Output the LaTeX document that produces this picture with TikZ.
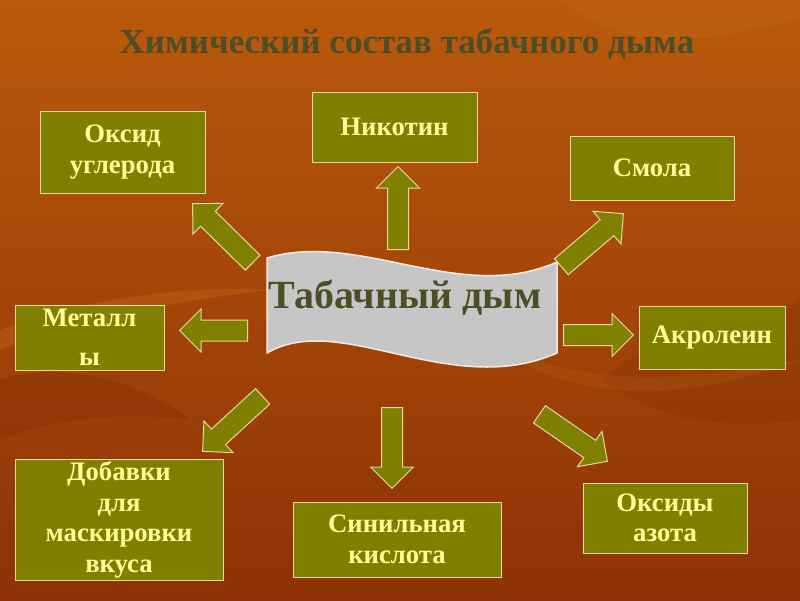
\documentclass[tikz,border=0pt]{standalone}
\usepackage{fontspec}
\setmainfont{Liberation Serif}
\usetikzlibrary{shapes.arrows, calc}

\definecolor{boxolive}{HTML}{808000}
\definecolor{boxedge}{HTML}{E6D7A6}
\definecolor{boxtext}{HTML}{FFFF99}
\definecolor{titlecol}{HTML}{4D4D26}
\definecolor{bgtop}{HTML}{BA5A0C}
\definecolor{bgbot}{HTML}{8E3206}
\definecolor{leaflight}{HTML}{D07A20}
\definecolor{leafdark}{HTML}{7A2404}
\definecolor{bannergray}{HTML}{C6C6C6}
\definecolor{banneredge}{HTML}{F4ECE2}

\tikzset{
    item/.style={rectangle, fill=boxolive, draw=boxedge, line width=1pt, text=boxtext,
        font=\bfseries\fontsize{26.7}{30.5}\selectfont, align=center, inner sep=2pt},
    blockarr/.style={single arrow, fill=boxolive, draw=boxedge, line width=1pt,
        inner xsep=0pt, inner ysep=10pt, single arrow head extend=11pt,
        single arrow head indent=0pt, sloped, allow upside down},
}
\newcommand{\blockarrow}[2]{%
    \path let \p1=($(#2)-(#1)$), \n1={veclen(\x1,\y1)} in
        (#1) -- (#2) node[blockarr, pos=0, anchor=tail, minimum height=\n1] {};}

\begin{document}
\begin{tikzpicture}[x=1pt, y=-1pt]
    % Background
    \useasboundingbox (0,0) rectangle (800,600);
    \fill[top color=bgtop, bottom color=bgbot] (0,0) rectangle (800,600);
    \fill[leaflight, opacity=.25] (0,330) .. controls (80,300) and (180,285) .. (270,290) .. controls (180,300) and (80,320) .. (0,350) -- cycle;
    \fill[leafdark, opacity=.25] (0,380) .. controls (60,360) and (140,380) .. (190,420) .. controls (120,410) and (50,420) .. (0,440) -- cycle;
    \fill[leaflight, opacity=.18] (560,0) .. controls (640,60) and (700,40) .. (800,20) -- (800,0) -- cycle;
    \fill[leafdark, opacity=.2] (600,380) .. controls (660,330) and (740,330) .. (800,300) -- (800,420) .. controls (720,430) and (660,420) .. (600,380) -- cycle;
    \fill[leaflight, opacity=.15] (470,330) .. controls (560,380) and (640,390) .. (800,360) .. controls (660,410) and (560,400) .. (470,330) -- cycle;
    % Title
    \node[font=\bfseries\fontsize{35}{40}\selectfont, text=titlecol, anchor=base] (title) at (407,53) {Химический состав табачного дыма};
    % Banner
    \filldraw[fill=bannergray, draw=banneredge, line width=1.5pt]
        (267,258) .. controls (360,230) and (460,305) .. (557,262) -- (557,353)
        .. controls (450,400) and (340,310) .. (267,353) -- cycle;
    \node[font=\bfseries\fontsize{40}{46}\selectfont, text=titlecol, anchor=base] (smoke) at (405,308) {Табачный дым};
    % Boxes
    \node[item, minimum width=165pt, minimum height=82pt] (oxid) at (122.5,152) {Оксид\\углерода};
    \node[item, minimum width=165pt, minimum height=70pt] (nicotin) at (394.5,127) {Никотин};
    \node[item, minimum width=164pt, minimum height=64pt] (smola) at (652,168) {Смола};
    \node[item, minimum width=149pt, minimum height=65pt] (metall) at (89.5,337.5) {Металл\\[8pt]ы};
    \node[item, minimum width=146pt, minimum height=63pt] (akrolein) at (712,337.5) {Акролеин};
    \node[item, minimum width=208pt, minimum height=114pt] (dobavki) at (119,520) {Добавки\\для\\маскировки\\вкуса};
    \node[item, minimum width=208pt, minimum height=75pt] (sinil) at (397,539.5) {Синильная\\кислота};
    \node[item, minimum width=164pt, minimum height=70pt] (azot) at (665,518) {Оксиды\\азота};
    % Arrow ends
    \foreach \a/\tx/\ty/\hx/\hy in {ox/253/263/193/204, nic/398/250/398/167, sm/561/267/623/214,
        met/248/330.5/180/330.5, akr/563/335/633/335, dob/263/396/203/451,
        sin/392/407/392/488, az/539/414/607/461} {
        \coordinate (\a-t) at (\tx,\ty);
        \coordinate (\a-h) at (\hx,\hy);
    }
    % Arrows
    \foreach \a in {ox,nic,sm,met,akr,dob,sin,az} {
        \blockarrow{\a-t}{\a-h}
    }
\end{tikzpicture}
\end{document}
